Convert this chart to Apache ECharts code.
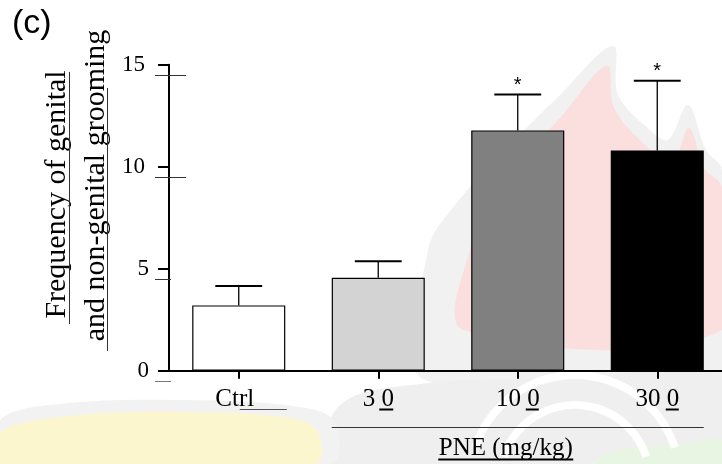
<!DOCTYPE html>
<html>
<head>
<meta charset="utf-8">
<script src="https://cdn.jsdelivr.net/npm/echarts@6/dist/echarts.min.js"></script>
<style>
  html, body { margin: 0; padding: 0; background: #ffffff; }
  #chart { width: 722px; height: 464px; }
</style>
</head>
<body>
<div id="chart"></div>
<script>
// Grooming frequency per treatment group (mean and SEM)
const categories = ['Ctrl', '30', '100', '300'];
const meanFreq = [3.2, 4.56, 11.78, 10.8];
const semFreq = [0.95, 0.81, 1.76, 3.41];
const significant = [false, false, true, true];
const yTicks = [0, 5, 10, 15];
const yTitleLines = ['Frequency of genital', 'and non-genital grooming'];
const groupTitle = 'PNE (mg/kg)';

const SERIF = '"Liberation Serif", "Times New Roman", serif';
const SANS = '"Liberation Sans", Arial, sans-serif';
const fills = ['#ffffff', '#d3d3d3', '#808080', '#000000'];

const chart = echarts.init(document.getElementById('chart'), null, { renderer: 'canvas' });

chart.setOption({
  backgroundColor: '#ffffff',
  animation: false,
  grid: {
    left: 169, right: -5, top: 64.7, bottom: 93.3,
    containLabel: false, outerBoundsMode: 'none'
  },
  xAxis: {
    type: 'category',
    data: categories,
    boundaryGap: true,
    z: 5,
    axisLine: { show: true, lineStyle: { color: '#000', width: 2 } },
    axisTick: { show: true, alignWithLabel: true, length: 8, lineStyle: { color: '#000', width: 2 } },
    axisLabel: {
      margin: 16,
      color: '#000',
      fontFamily: SERIF,
      fontSize: 25,
      lineHeight: 25,
      formatter: function (v) {
        if (v === 'Ctrl') return '{c|Ctrl}';
        return '{n|' + v.slice(0, -1) + ' ' + v.slice(-1) + '}';
      },
      rich: {
        c: { fontFamily: SERIF, fontSize: 25, color: '#000', padding: [0, 8, 0, 0] },
        n: { fontFamily: SERIF, fontSize: 25, color: '#000' }
      }
    },
    splitLine: { show: false }
  },
  yAxis: {
    type: 'value',
    min: yTicks[0],
    max: yTicks[yTicks.length - 1],
    interval: 5,
    z: 5,
    axisLine: { show: true, lineStyle: { color: '#000', width: 2 } },
    axisTick: { show: true, inside: false, length: 11, lineStyle: { color: '#000', width: 2 } },
    axisLabel: {
      margin: 20,
      color: '#000',
      fontFamily: SERIF,
      fontSize: 23,
      formatter: function (v) {
        return v >= 10 ? '{w|' + v + '}' : '{s|' + v + '}';
      },
      rich: {
        w: { fontFamily: SERIF, fontSize: 23, color: '#000', padding: [0, 4, 0, 0] },
        s: { fontFamily: SERIF, fontSize: 23, color: '#000' }
      }
    },
    splitLine: { show: false }
  },
  series: [
    {
      type: 'bar',
      barWidth: '66.7%',
      data: meanFreq.map(function (m, i) {
        return { value: m, itemStyle: { color: fills[i] } };
      }),
      itemStyle: { borderColor: '#000', borderWidth: 1.2 },
      z: 2
    },
    {
      type: 'custom',
      z: 3,
      data: categories.map(function (c, i) {
        return [i, meanFreq[i], meanFreq[i] + semFreq[i], significant[i] ? 1 : 0];
      }),
      encode: { x: 0, y: 2 },
      renderItem: function (params, api) {
        const i = api.value(0);
        const base = api.coord([i, api.value(1)]);
        const top = api.coord([i, api.value(2)]);
        const halfCap = api.size([1, 0])[0] * 0.168;
        const children = [
          { type: 'line', shape: { x1: base[0], y1: base[1], x2: top[0], y2: top[1] },
            style: { stroke: '#000', lineWidth: 1.3 } },
          { type: 'line', shape: { x1: top[0] - halfCap, y1: top[1], x2: top[0] + halfCap, y2: top[1] },
            style: { stroke: '#000', lineWidth: 2 } }
        ];
        if (api.value(3)) {
          children.push({
            type: 'text', x: top[0], y: top[1] - 9,
            style: { text: '*', font: '20px ' + SANS, fill: '#000', align: 'center', verticalAlign: 'middle' }
          });
        }
        return { type: 'group', children: children };
      }
    }
  ]
});

// Decorations placed from the axis scales
const xAt = function (c) { return chart.convertToPixel({ xAxisIndex: 0 }, c); };
const yAt = function (v) { return chart.convertToPixel({ yAxisIndex: 0 }, v); };
const band = xAt(categories[1]) - xAt(categories[0]);
const barHalf = band * 0.667 / 2;
const axisX = xAt(categories[0]) - band / 2;

function seg(x1, y1, x2, y2, color, w) {
  return { type: 'line', silent: true, z: 10,
    shape: { x1: x1, y1: y1, x2: x2, y2: y2 },
    style: { stroke: color, lineWidth: w } };
}
function blob(points, color) {
  return { type: 'polygon', silent: true, z: -5,
    shape: { points: points, smooth: 0.35 },
    style: { fill: color } };
}

const deco = [];

// faded emblem in the page background
deco.push(blob([[425, 380], [428, 250], [455, 205], [505, 150], [560, 95], [613, 46],
  [618, 95], [650, 130], [668, 140], [688, 105], [706, 150], [722, 170], [722, 380]], '#f1f1f1'));
deco.push(blob([[464, 330], [470, 250], [505, 178], [560, 118], [607, 66],
  [614, 108], [648, 148], [672, 163], [689, 128], [704, 168], [722, 188], [722, 330]], '#fbdede'));
deco.push(blob([[330, 464], [340, 405], [420, 384], [560, 378], [722, 376], [722, 440],
  [640, 448], [590, 464]], '#efefef'));
deco.push(blob([[0, 464], [0, 420], [60, 404], [180, 400], [300, 407], [335, 422], [330, 464]], '#f2f2f2'));
deco.push(blob([[0, 464], [0, 432], [70, 416], [180, 412], [290, 418], [318, 432], [315, 464]], '#fcf6cf'));
deco.push(blob([[595, 464], [610, 452], [680, 444], [722, 440], [722, 464]], '#e8f5e3'));
[[575, 480, 75], [575, 480, 105]].forEach(function (a) {
  deco.push({ type: 'arc', silent: true, z: -4,
    shape: { cx: a[0], cy: a[1], r: a[2], startAngle: Math.PI * 1.1, endAngle: Math.PI * 1.9 },
    style: { stroke: '#ffffff', lineWidth: 8, fill: null } });
});

// panel letter
deco.push({ type: 'text', x: 12, y: 24, z: 10,
  style: { text: '(c)', font: '34px ' + SANS, fill: '#000', align: 'left', verticalAlign: 'middle' } });

// rotated y-axis title, two lines, with their underlines
deco.push({ type: 'text', x: 57, y: 194.5, rotation: Math.PI / 2, z: 10,
  style: { text: yTitleLines[0], font: '30px ' + SERIF, fill: '#000', align: 'center', verticalAlign: 'middle' } });
deco.push({ type: 'text', x: 96, y: 185.5, rotation: Math.PI / 2, z: 10,
  style: { text: yTitleLines[1], font: '30px ' + SERIF, fill: '#000', align: 'center', verticalAlign: 'middle' } });
deco.push(seg(69.5, 72, 69.5, 324, '#333', 1));
deco.push(seg(107.5, 88, 107.5, 351, '#333', 1));

// faint offset tick marks beside the y axis
yTicks.forEach(function (v) {
  const y = Math.round(yAt(v) + 10) + 0.5;
  const reach = v >= 10 ? axisX + 17 : axisX + 2;
  deco.push(seg(axisX - 14, y, reach, y, v === 0 ? '#777' : '#333', 1));
});

// underlines in the category labels
deco.push(seg(xAt('Ctrl') + 1, 409.5, xAt('Ctrl') + 48, 409.5, '#555', 1));
deco.push(seg(xAt('30') + 1, 409.5, xAt('30') + 15, 409.5, '#000', 2));
deco.push(seg(xAt('100') + 8, 409.5, xAt('100') + 21, 409.5, '#000', 2));
deco.push(seg(xAt('300') + 8.5, 409.5, xAt('300') + 21.5, 409.5, '#000', 2));

// bracket under the PNE dose groups
const bracketL = xAt('30') - barHalf;
const bracketR = xAt('300') + barHalf;
deco.push(seg(bracketL, 427.5, bracketR, 427.5, '#333', 1.2));
const titleX = (bracketL + bracketR) / 2 - 12;
deco.push({ type: 'text', x: titleX, y: 448.6, z: 10,
  style: { text: groupTitle, font: '25px ' + SERIF, fill: '#000', align: 'center', verticalAlign: 'middle' } });
deco.push(seg(titleX - 67.5, 459.5, titleX + 67.5, 459.5, '#000', 2));

chart.setOption({ graphic: { elements: deco } });
</script>
</body>
</html>
